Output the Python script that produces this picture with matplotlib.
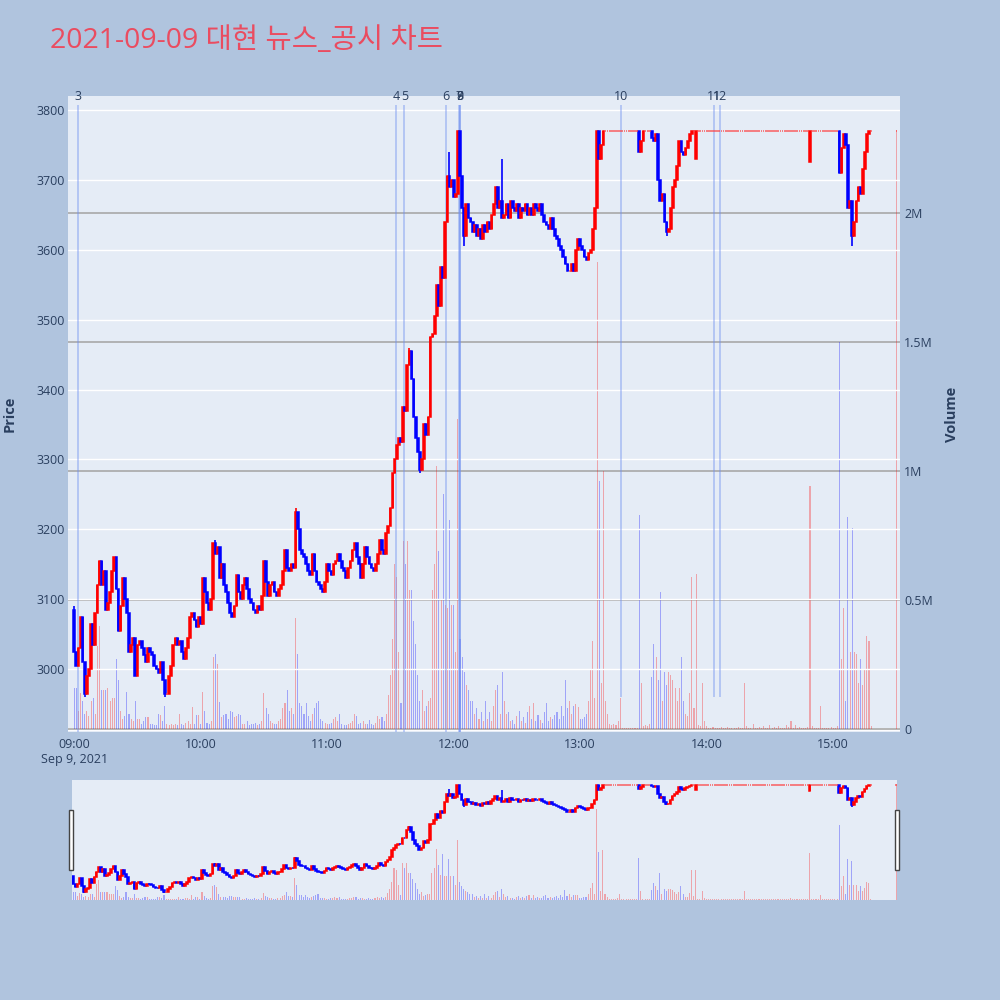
import matplotlib
matplotlib.use("Agg")
import matplotlib.pyplot as plt
import matplotlib.dates as mdates
from matplotlib.ticker import FuncFormatter, FixedLocator
from matplotlib.patches import Rectangle
import numpy as np
import pandas as pd

plt.rcParams['font.family'] = ['Open Sans', 'Noto Sans CJK KR', 'DejaVu Sans']

title = "2021-09-09 대현 뉴스_공시 차트"

# one bar per minute 09:00 - 15:18, then the 15:30 closing auction
times = list(pd.date_range("2021-09-09 09:00", "2021-09-09 15:18", freq="min")) + [pd.Timestamp("2021-09-09 15:30")]

first_open = 3085
closes = [
    3025, 3005, 3030, 3075, 3010, 2965, 2990, 3000, 3065, 3035, 3080, 3120, 3155, 3120, 3140, 3085, 3095, 3110, 3140, 3160,  # 09:00
    3115, 3055, 3090, 3130, 3100, 3080, 3025, 3035, 3045, 2990, 3035, 3040, 3030, 3020, 3010, 3030, 3025, 3020, 3005, 3000,  # 09:20
    2995, 3010, 2985, 2965, 2965, 2990, 3005, 3035, 3045, 3035, 3040, 3025, 3015, 3030, 3045, 3075, 3080, 3070, 3060, 3075,  # 09:40
    3065, 3130, 3110, 3095, 3085, 3100, 3180, 3165, 3175, 3130, 3150, 3120, 3110, 3095, 3080, 3075, 3090, 3135, 3110, 3100,  # 10:00
    3120, 3130, 3115, 3100, 3095, 3085, 3080, 3090, 3085, 3105, 3155, 3125, 3105, 3120, 3125, 3110, 3105, 3115, 3120, 3140,  # 10:20
    3170, 3145, 3140, 3150, 3145, 3225, 3200, 3170, 3165, 3160, 3150, 3140, 3135, 3165, 3140, 3125, 3120, 3115, 3110, 3125,  # 10:40
    3150, 3140, 3135, 3150, 3155, 3165, 3155, 3145, 3140, 3130, 3145, 3155, 3170, 3180, 3160, 3150, 3130, 3150, 3175, 3160,  # 11:00
    3150, 3145, 3140, 3150, 3165, 3185, 3170, 3165, 3195, 3205, 3230, 3280, 3300, 3320, 3330, 3325, 3375, 3370, 3435, 3455,  # 11:20
    3415, 3360, 3330, 3310, 3285, 3300, 3350, 3335, 3360, 3475, 3480, 3505, 3550, 3520, 3575, 3560, 3640, 3705, 3690, 3700,  # 11:40
    3675, 3680, 3770, 3705, 3660, 3620, 3665, 3645, 3640, 3625, 3635, 3620, 3630, 3615, 3635, 3625, 3640, 3630, 3650, 3665,  # 12:00
    3690, 3660, 3670, 3645, 3650, 3665, 3645, 3670, 3660, 3655, 3665, 3645, 3660, 3655, 3665, 3650, 3660, 3650, 3665, 3660,  # 12:20
    3655, 3665, 3650, 3640, 3635, 3630, 3645, 3630, 3620, 3615, 3605, 3600, 3590, 3580, 3570, 3570, 3580, 3570, 3600, 3615,  # 12:40
    3605, 3600, 3590, 3585, 3595, 3600, 3630, 3660, 3770, 3730, 3750, 3770, 3770, 3770, 3770, 3770, 3770, 3770, 3770, 3770,  # 13:00
    3770, 3770, 3770, 3770, 3770, 3770, 3770, 3770, 3740, 3755, 3770, 3770, 3770, 3770, 3760, 3755, 3765, 3700, 3670, 3680,  # 13:20
    3640, 3625, 3630, 3660, 3690, 3700, 3720, 3755, 3740, 3735, 3745, 3755, 3765, 3770, 3770, 3770, 3770, 3770, 3770, 3770,  # 13:40
    3770, 3770, 3770, 3770, 3770, 3770, 3770, 3770, 3770, 3770, 3770, 3770, 3770, 3770, 3770, 3770, 3770, 3770, 3770, 3770,  # 14:00
    3770, 3770, 3770, 3770, 3770, 3770, 3770, 3770, 3770, 3770, 3770, 3770, 3770, 3770, 3770, 3770, 3770, 3770, 3770, 3770,  # 14:20
    3770, 3770, 3770, 3770, 3770, 3770, 3770, 3770, 3770, 3770, 3770, 3770, 3770, 3770, 3770, 3770, 3770, 3770, 3770, 3770,  # 14:40
    3770, 3770, 3770, 3710, 3745, 3765, 3750, 3660, 3670, 3620, 3640, 3670, 3690, 3680, 3715, 3740, 3765, 3770, 3770,        # 15:00
    3770,  # 15:30
]
# bars whose open is not the previous close
open_fix = {295: 3730, 349: 3725}
# wicks beyond the body
high_fix = {0: 3090, 67: 3185, 105: 3230, 159: 3460, 178: 3740, 203: 3730}
low_fix = {5: 2960, 43: 2960, 164: 3280, 185: 3605, 281: 3620, 369: 3605}

# volume in thousands of shares
volumes_k = [
    160, 160, 70, 140, 110, 60, 70, 50, 110, 120, 60, 320, 400, 150, 150, 150, 160, 110, 120, 120,
    270, 190, 70, 40, 50, 145, 60, 40, 30, 110, 40, 40, 20, 30, 45, 45, 20, 20, 15, 15,
    60, 55, 30, 90, 20, 15, 20, 15, 20, 15, 60, 20, 15, 25, 30, 20, 85, 20, 55, 55,
    20, 145, 70, 25, 20, 30, 280, 290, 250, 105, 45, 55, 60, 40, 70, 65, 45, 50, 60, 55,
    20, 20, 30, 15, 20, 20, 25, 15, 20, 30, 140, 80, 60, 30, 25, 20, 20, 30, 40, 80,
    100, 150, 70, 80, 60, 430, 290, 100, 90, 60, 100, 50, 30, 60, 80, 100, 110, 40, 30, 25,
    20, 20, 25, 40, 45, 30, 60, 20, 15, 15, 20, 25, 30, 60, 50, 20, 25, 30, 20, 20,
    35, 20, 15, 25, 50, 40, 45, 30, 60, 130, 210, 350, 640, 590, 300, 100, 730, 640, 730, 540,
    540, 420, 330, 210, 110, 150, 70, 90, 110, 120, 540, 640, 1020, 690, 500, 910, 480, 470, 810, 480,
    480, 300, 1200, 350, 280, 220, 170, 150, 110, 110, 60, 80, 40, 65, 30, 110, 40, 65, 30, 90,
    150, 170, 60, 220, 110, 60, 65, 30, 35, 20, 50, 70, 30, 45, 25, 65, 90, 40, 100, 30,
    55, 35, 25, 65, 100, 30, 45, 40, 55, 65, 40, 90, 50, 190, 80, 110, 60, 90, 95, 85,
    40, 40, 45, 60, 110, 230, 340, 120, 1810, 960, 180, 1000, 110, 60, 20, 15, 20, 15, 30, 120,
    5, 5, 5, 5, 3, 3, 3, 3, 830, 180, 10, 15, 10, 20, 200, 330, 280, 190, 530, 110,
    220, 170, 220, 210, 190, 160, 110, 160, 280, 110, 60, 50, 140, 590, 80, 600, 15, 10, 180, 30,
    10, 5, 3, 6, 4, 3, 5, 8, 3, 4, 6, 3, 5, 4, 3, 7, 5, 4, 180, 10,
    3, 3, 20, 5, 4, 6, 3, 10, 4, 5, 15, 3, 6, 4, 10, 5, 3, 4, 15, 6,
    30, 5, 15, 4, 6, 3, 5, 4, 8, 940, 10, 3, 3, 3, 90, 5, 3, 4, 3, 6,
    3, 4, 10, 1500, 270, 470, 110, 820, 300, 780, 300, 290, 180, 270, 170, 230, 360, 340, 10,
    2320,
]

news_labels = ["3", "4", "5", "6", "7", "8", "9", "10", "11", "12"]
news_times = ["09:01:50", "11:32:40", "11:36:40", "11:56:25", "12:02:30", "12:03:00", "12:03:00",
              "13:19:25", "14:03:40", "14:06:25"]
news_floor = [2910, 2910, 2910, 2910, 2910, 2910, 2910, 2960, 2960, 2960]

# ---- derived OHLC
closes = np.array(closes, dtype=float)
opens = np.concatenate([[first_open], closes[:-1]])
for i, v in open_fix.items():
    opens[i] = v
highs = np.maximum(opens, closes)
lows = np.minimum(opens, closes)
for i, v in high_fix.items():
    highs[i] = v
for i, v in low_fix.items():
    lows[i] = v
vols = np.array(volumes_k) * 1000.0

x = mdates.date2num(times)
one_min = 1 / 1440
x0 = mdates.date2num(pd.Timestamp("2021-09-09 09:00"))
up = closes >= opens
flat = closes == opens
cols = np.where(up, "#FF0000", "#0000FF")
vcols = [(1, 0, 0, 0.3) if u else (0, 0, 1, 0.3) for u in up]

txt = "#2a3f5f"
bg = "#E5ECF6"

fig = plt.figure(figsize=(10, 10), dpi=100, facecolor="#B0C4DE")


def draw(ax_vol, ax_pr, body_w, body_lw, bar_w):
    ax_vol.bar(x, vols, width=bar_w * one_min, color=vcols, linewidth=0, zorder=2)
    ax_pr.vlines(x, lows, highs, colors=cols, lw=1.2, zorder=3)
    m = ~flat
    ax_pr.bar(x[m], (closes - opens)[m], bottom=opens[m], width=body_w * one_min, color=cols[m],
              edgecolor=cols[m], linewidth=body_lw, zorder=4)
    # unchanged bars show as short dashes
    ax_pr.bar(x[flat], 0, bottom=opens[flat], width=0.85 * one_min, color="#ff3b3b",
              edgecolor="#ff3b3b", linewidth=1.1, alpha=0.8, zorder=4)


# ---- main chart
ax_v = fig.add_axes([0.068, 0.268, 0.832, 0.636], facecolor=bg)
ax_p = ax_v.twinx()
draw(ax_v, ax_p, 0.8, 1.1, 0.5)

ax_v.set_ylim(-0.0116e6, 2.453e6)
ax_p.set_ylim(2910, 3820)
ax_v.set_xlim(x0 - 2.94 * one_min, x0 + 391.7 * one_min)

ax_v.yaxis.tick_right()
ax_p.yaxis.tick_left()
ax_v.yaxis.set_major_locator(FixedLocator([0, 0.5e6, 1e6, 1.5e6, 2e6]))
ax_v.yaxis.set_major_formatter(FuncFormatter(lambda v, p: "0" if v == 0 else f"{v / 1e6:g}M"))
ax_p.yaxis.set_major_locator(FixedLocator(range(3000, 3801, 100)))
ax_v.grid(axis="y", color="#a8a8a8", lw=1.2)
ax_v.axhline(0, color="white", lw=2, zorder=1)
ax_p.grid(axis="y", color="white", lw=1)
ax_p.set_axisbelow(True)


def fmt_time(v, pos):
    d = mdates.num2date(v)
    s = d.strftime("%H:%M")
    if d.hour == 9 and d.minute == 0:
        s += "\nSep 9, 2021"
    return s


ax_v.xaxis.set_major_locator(mdates.HourLocator())
ax_v.xaxis.set_major_formatter(FuncFormatter(fmt_time))
ax_v.tick_params(axis="x", length=0, pad=4, labelsize=9, labelcolor=txt)
ax_v.tick_params(axis="y", length=0, pad=3, labelsize=9, labelcolor=txt)
ax_p.tick_params(axis="y", length=0, pad=2, labelsize=9, labelcolor=txt)
for a in (ax_v, ax_p):
    for s in a.spines.values():
        s.set_visible(False)

# news markers
xn = mdates.date2num([pd.Timestamp("2021-09-09 " + t) for t in news_times])
ax_p.vlines(xn, news_floor, 3807, color="#6f8ff0", alpha=0.45, lw=1.3, zorder=2)
for xi, lab in zip(xn, news_labels):
    ax_p.text(xi, 1.0, lab, transform=ax_p.get_xaxis_transform(), ha="center", va="center",
              fontsize=9, color=txt, clip_on=False)

fig.text(0.010, 0.586, "Price", rotation=90, ha="center", va="center", fontsize=10.5,
         fontweight="bold", color=txt)
fig.text(0.952, 0.586, "Volume", rotation=90, ha="center", va="center", fontsize=10.5,
         fontweight="bold", color=txt)
fig.text(0.05, 0.959, title, ha="left", va="center", fontsize=20.5, color="#EA4C60")

# ---- range slider
ax_sv = fig.add_axes([0.072, 0.100, 0.825, 0.120], facecolor=bg)
ax_sp = ax_sv.twinx()
draw(ax_sv, ax_sp, 0.8, 1.1, 0.5)
ax_sv.set_ylim(-0.01e6, 2.4e6)
ax_sp.set_ylim(2907, 3808)
ax_sv.set_xlim(x0 - 0.6 * one_min, x0 + 390.4 * one_min)
for a in (ax_sv, ax_sp):
    a.set_xticks([])
    a.set_yticks([])
    for s in a.spines.values():
        s.set_visible(False)

for hx in (0.0693, 0.8950):
    fig.add_artist(Rectangle((hx, 0.130), 0.004, 0.060, transform=fig.transFigure,
                             facecolor="white", edgecolor="#444444", lw=1))

fig.savefig("out.png", dpi=100, facecolor=fig.get_facecolor())
